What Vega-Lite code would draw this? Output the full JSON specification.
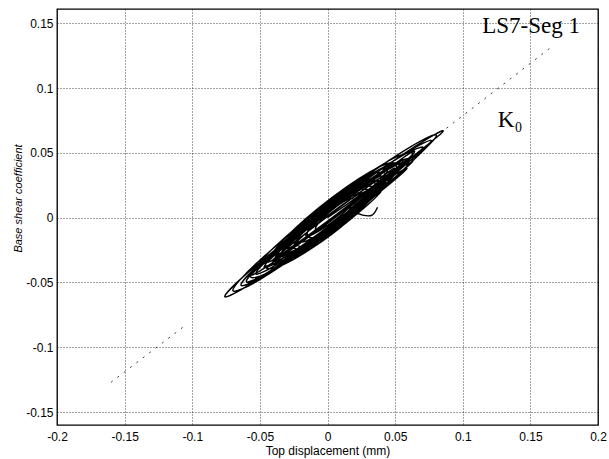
{
  "$schema": "https://vega.github.io/schema/vega-lite/v6.json",
  "width": 541,
  "height": 416,
  "autosize": {"type": "none"},
  "padding": {"left": 57, "top": 9, "right": 11, "bottom": 34},
  "background": "white",
  "config": {
    "view": {"stroke": "black", "strokeWidth": 1.3},
    "axis": {
      "domain": false,
      "ticks": false,
      "grid": true,
      "gridColor": "#000000",
      "gridDash": [1, 2],
      "gridOpacity": 0.9,
      "gridWidth": 0.8,
      "labelFlush": false,
      "labelOverlap": false,
      "labelFont": "Liberation Sans",
      "labelFontSize": 12,
      "labelColor": "#000000",
      "titleFont": "Liberation Sans",
      "titleFontSize": 11,
      "titleFontWeight": "normal",
      "titleColor": "#000000"
    }
  },
  "datasets": {
    "loops": [
      {"x": 0.0, "y": 0.0},
      {"x": 0.024, "y": 0.0177}, {"x": 0.0181, "y": 0.0167}, {"x": 0.004, "y": 0.007}, {"x": -0.0101, "y": -0.0056}, {"x": -0.016, "y": -0.0137}, {"x": -0.0101, "y": -0.0126}, {"x": 0.004, "y": -0.003}, {"x": 0.0181, "y": 0.0095},
      {"x": 0.049, "y": 0.0374}, {"x": 0.0358, "y": 0.0284}, {"x": 0.004, "y": 0.004}, {"x": -0.0278, "y": -0.0216}, {"x": -0.041, "y": -0.0334}, {"x": -0.0278, "y": -0.0244}, {"x": 0.004, "y": 0.0}, {"x": 0.0358, "y": 0.0256},
      {"x": 0.037, "y": 0.0285}, {"x": 0.0267, "y": 0.0262}, {"x": 0.002, "y": 0.009}, {"x": -0.0227, "y": -0.0128}, {"x": -0.033, "y": -0.0265}, {"x": -0.0227, "y": -0.0242}, {"x": 0.002, "y": -0.007}, {"x": 0.0267, "y": 0.0148},
      {"x": 0.043, "y": 0.0325}, {"x": 0.0313, "y": 0.0331}, {"x": 0.003, "y": 0.015}, {"x": -0.0253, "y": -0.0113}, {"x": -0.037, "y": -0.0304}, {"x": -0.0253, "y": -0.0311}, {"x": 0.003, "y": -0.013}, {"x": 0.0313, "y": 0.0133},
      {"x": 0.064, "y": 0.0502}, {"x": 0.0464, "y": 0.0392}, {"x": 0.004, "y": 0.007}, {"x": -0.0384, "y": -0.0276}, {"x": -0.056, "y": -0.0442}, {"x": -0.0384, "y": -0.0332}, {"x": 0.004, "y": -0.001}, {"x": 0.0464, "y": 0.0336},
      {"x": 0.054, "y": 0.0423}, {"x": 0.0394, "y": 0.0379}, {"x": 0.004, "y": 0.013}, {"x": -0.0314, "y": -0.0177}, {"x": -0.046, "y": -0.0363}, {"x": -0.0314, "y": -0.0319}, {"x": 0.004, "y": -0.007}, {"x": 0.0394, "y": 0.0237},
      {"x": 0.037, "y": 0.0276}, {"x": 0.0282, "y": 0.0292}, {"x": 0.007, "y": 0.016}, {"x": -0.0142, "y": -0.0042}, {"x": -0.023, "y": -0.0196}, {"x": -0.0142, "y": -0.0212}, {"x": 0.007, "y": -0.008}, {"x": 0.0282, "y": 0.0122},
      {"x": 0.04, "y": 0.0315}, {"x": 0.0297, "y": 0.0263}, {"x": 0.005, "y": 0.008}, {"x": -0.0197, "y": -0.0127}, {"x": -0.03, "y": -0.0235}, {"x": -0.0197, "y": -0.0183}, {"x": 0.005, "y": 0.0}, {"x": 0.0297, "y": 0.0207},
      {"x": 0.07, "y": 0.0531}, {"x": 0.051, "y": 0.0452}, {"x": 0.005, "y": 0.012}, {"x": -0.041, "y": -0.027}, {"x": -0.06, "y": -0.0491}, {"x": -0.041, "y": -0.0412}, {"x": 0.005, "y": -0.008}, {"x": 0.051, "y": 0.0311},
      {"x": 0.06, "y": 0.0452}, {"x": 0.0424, "y": 0.0371}, {"x": 0.0, "y": 0.006}, {"x": -0.0424, "y": -0.0297}, {"x": -0.06, "y": -0.0492}, {"x": -0.0424, "y": -0.0411}, {"x": 0.0, "y": -0.01}, {"x": 0.0424, "y": 0.0257},
      {"x": 0.027, "y": 0.0197}, {"x": 0.0197, "y": 0.016}, {"x": 0.002, "y": 0.003}, {"x": -0.0157, "y": -0.0118}, {"x": -0.023, "y": -0.0197}, {"x": -0.0157, "y": -0.016}, {"x": 0.002, "y": -0.003}, {"x": 0.0197, "y": 0.0118},
      {"x": 0.084, "y": 0.0649}, {"x": 0.0606, "y": 0.0522}, {"x": 0.004, "y": 0.01}, {"x": -0.0526, "y": -0.0368}, {"x": -0.076, "y": -0.0609}, {"x": -0.0526, "y": -0.0482}, {"x": 0.004, "y": -0.006}, {"x": 0.0606, "y": 0.0408},
      {"x": 0.053, "y": 0.0414}, {"x": 0.0398, "y": 0.0374}, {"x": 0.008, "y": 0.015}, {"x": -0.0238, "y": -0.0126}, {"x": -0.037, "y": -0.0294}, {"x": -0.0238, "y": -0.0254}, {"x": 0.008, "y": -0.003}, {"x": 0.0398, "y": 0.0246},
      {"x": 0.056, "y": 0.0443}, {"x": 0.0414, "y": 0.0349}, {"x": 0.006, "y": 0.008}, {"x": -0.0294, "y": -0.0207}, {"x": -0.044, "y": -0.0343}, {"x": -0.0294, "y": -0.0249}, {"x": 0.006, "y": 0.002}, {"x": 0.0414, "y": 0.0307},
      {"x": 0.063, "y": 0.0492}, {"x": 0.0454, "y": 0.0439}, {"x": 0.003, "y": 0.014}, {"x": -0.0394, "y": -0.0229}, {"x": -0.057, "y": -0.0452}, {"x": -0.0394, "y": -0.0399}, {"x": 0.003, "y": -0.01}, {"x": 0.0454, "y": 0.0269},
      {"x": 0.036, "y": 0.0265}, {"x": 0.0257, "y": 0.0277}, {"x": 0.001, "y": 0.012}, {"x": -0.0237, "y": -0.0113}, {"x": -0.034, "y": -0.0285}, {"x": -0.0237, "y": -0.0297}, {"x": 0.001, "y": -0.014}, {"x": 0.0257, "y": 0.0093},
      {"x": 0.042, "y": 0.0304}, {"x": 0.0303, "y": 0.0254}, {"x": 0.002, "y": 0.005}, {"x": -0.0263, "y": -0.019}, {"x": -0.038, "y": -0.0324}, {"x": -0.0263, "y": -0.0274}, {"x": 0.002, "y": -0.007}, {"x": 0.0303, "y": 0.017},
      {"x": 0.051, "y": 0.0384}, {"x": 0.0378, "y": 0.0365}, {"x": 0.006, "y": 0.015}, {"x": -0.0258, "y": -0.0135}, {"x": -0.039, "y": -0.0324}, {"x": -0.0258, "y": -0.0305}, {"x": 0.006, "y": -0.009}, {"x": 0.0378, "y": 0.0195},
      {"x": 0.08, "y": 0.062}, {"x": 0.058, "y": 0.0525}, {"x": 0.005, "y": 0.014}, {"x": -0.048, "y": -0.0309}, {"x": -0.07, "y": -0.056}, {"x": -0.048, "y": -0.0465}, {"x": 0.005, "y": -0.008}, {"x": 0.058, "y": 0.0369},
      {"x": 0.035, "y": 0.0246}, {"x": 0.0262, "y": 0.0241}, {"x": 0.005, "y": 0.01}, {"x": -0.0162, "y": -0.0094}, {"x": -0.025, "y": -0.0226}, {"x": -0.0162, "y": -0.0221}, {"x": 0.005, "y": -0.008}, {"x": 0.0262, "y": 0.0113},
      {"x": 0.057, "y": 0.0432}, {"x": 0.0409, "y": 0.0356}, {"x": 0.002, "y": 0.007}, {"x": -0.0369, "y": -0.0257}, {"x": -0.053, "y": -0.0432}, {"x": -0.0369, "y": -0.0356}, {"x": 0.002, "y": -0.007}, {"x": 0.0409, "y": 0.0257},
      {"x": 0.025, "y": 0.0187}, {"x": 0.0191, "y": 0.0212}, {"x": 0.005, "y": 0.013}, {"x": -0.0091, "y": -0.001}, {"x": -0.015, "y": -0.0127}, {"x": -0.0091, "y": -0.0152}, {"x": 0.005, "y": -0.007}, {"x": 0.0191, "y": 0.007},
      {"x": 0.044, "y": 0.0354}, {"x": 0.0323, "y": 0.034}, {"x": 0.004, "y": 0.015}, {"x": -0.0243, "y": -0.0104}, {"x": -0.036, "y": -0.0274}, {"x": -0.0243, "y": -0.026}, {"x": 0.004, "y": -0.007}, {"x": 0.0323, "y": 0.0184},
      {"x": 0.076, "y": 0.058}, {"x": 0.0555, "y": 0.0483}, {"x": 0.006, "y": 0.012}, {"x": -0.0435, "y": -0.0295}, {"x": -0.064, "y": -0.052}, {"x": -0.0435, "y": -0.0423}, {"x": 0.006, "y": -0.006}, {"x": 0.0555, "y": 0.0355},
      {"x": 0.054, "y": 0.0413}, {"x": 0.0394, "y": 0.0397}, {"x": 0.004, "y": 0.016}, {"x": -0.0314, "y": -0.0159}, {"x": -0.046, "y": -0.0373}, {"x": -0.0314, "y": -0.0357}, {"x": 0.004, "y": -0.012}, {"x": 0.0394, "y": 0.0199},
      {"x": 0.028, "y": 0.0217}, {"x": 0.0207, "y": 0.0216}, {"x": 0.003, "y": 0.01}, {"x": -0.0147, "y": -0.0062}, {"x": -0.022, "y": -0.0177}, {"x": -0.0147, "y": -0.0176}, {"x": 0.003, "y": -0.006}, {"x": 0.0207, "y": 0.0103},
      {"x": 0.053, "y": 0.0403}, {"x": 0.0384, "y": 0.033}, {"x": 0.003, "y": 0.007}, {"x": -0.0324, "y": -0.0226}, {"x": -0.047, "y": -0.0383}, {"x": -0.0324, "y": -0.0311}, {"x": 0.003, "y": -0.005}, {"x": 0.0384, "y": 0.0246},
      {"x": 0.021, "y": 0.0148}, {"x": 0.0166, "y": 0.0148}, {"x": 0.006, "y": 0.008}, {"x": -0.0046, "y": -0.0018}, {"x": -0.009, "y": -0.0088}, {"x": -0.0046, "y": -0.0083}, {"x": 0.006, "y": -0.002}, {"x": 0.0166, "y": 0.0083},
      {"x": 0.017, "y": 0.006}, {"x": 0.026, "y": 0.002}, {"x": 0.033, "y": 0.002}, {"x": 0.037, "y": 0.008}
    ],
    "k0": [
      {"x": -0.16, "y": -0.127, "seg": "a"}, {"x": -0.105, "y": -0.083, "seg": "a"},
      {"x": 0.088, "y": 0.069, "seg": "b"}, {"x": 0.166, "y": 0.132, "seg": "b"}
    ],
    "labels": [
      {"x": 0.1505, "y": 0.1423, "text": "LS7-Seg 1"},
      {"x": 0.135, "y": 0.0698, "text": "K₀"}
    ]
  },
  "layer": [
    {
      "data": {"name": "k0"},
      "mark": {"type": "line", "color": "#222222", "strokeWidth": 0.9, "strokeDash": [2, 6]},
      "encoding": {
        "x": {"field": "x", "type": "quantitative", "scale": {"domain": [-0.2, 0.2], "nice": false, "zero": false},
              "axis": {"values": [-0.2, -0.15, -0.1, -0.05, 0, 0.05, 0.1, 0.15, 0.2], "labelExpr": "'' + datum.value", "title": "Top displacement (mm)", "titleFontSize": 12, "labelPadding": 6, "titlePadding": 3}},
        "y": {"field": "y", "type": "quantitative", "scale": {"domain": [-0.16, 0.161], "nice": false, "zero": false},
              "axis": {"values": [-0.15, -0.1, -0.05, 0, 0.05, 0.1, 0.15], "labelExpr": "'' + datum.value", "title": "Base shear coefficient", "titleFontStyle": "italic", "labelPadding": 4, "titleX": -39, "titleY": 189, "titleAngle": -90, "titleBaseline": "middle", "titleAlign": "center"}},
        "detail": {"field": "seg"},
        "order": {"value": null}
      }
    },
    {
      "data": {"name": "loops"},
      "mark": {"type": "line", "color": "#000000", "strokeWidth": 1.4, "interpolate": "cardinal"},
      "encoding": {
        "x": {"field": "x", "type": "quantitative"},
        "y": {"field": "y", "type": "quantitative"},
        "order": {"value": null}
      }
    },
    {
      "data": {"name": "labels"},
      "mark": {"type": "text", "font": "Liberation Serif", "fontSize": 23, "color": "#000000", "align": "center", "baseline": "alphabetic"},
      "encoding": {
        "x": {"field": "x", "type": "quantitative"},
        "y": {"field": "y", "type": "quantitative"},
        "text": {"field": "text"}
      }
    }
  ]
}
